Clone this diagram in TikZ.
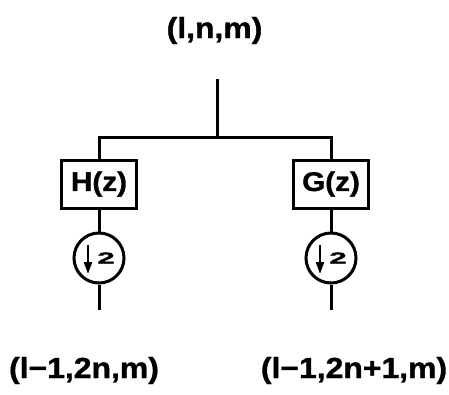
\documentclass[tikz,border=0pt]{standalone}
\usepackage{fontspec}
\usepackage{graphicx}
\usetikzlibrary{arrows.meta}
\newfontfamily\labfont[FakeStretch=1.1,FakeBold=1.2]{Liberation Sans}
\begin{document}
\begin{tikzpicture}[x=1pt,y=1pt,
  wire/.style={line width=3pt},
  lab/.style={font=\labfont\bfseries\fontsize{29}{32}\selectfont, inner sep=0pt, anchor=base},
  filt/.style={draw, line width=3pt, minimum width=75pt, minimum height=48pt, inner sep=0pt,
    font=\labfont\bfseries\fontsize{27}{30}\selectfont},
  down/.style={draw, circle, line width=3pt, minimum size=50pt, inner sep=0pt}]
\useasboundingbox (0,0) rectangle (449,-394);
\node[lab] (top) at (214.5,-38) {(l,n,m)};
\coordinate (src) at (217,-79);
\coordinate (junc) at (217,-137);
\node[filt] (h) at (99,-184) {H(z)};
\node[filt] (g) at (331,-184) {G(z)};
\node[down] (dh) at (99,-258) {};
\node[down] (dg) at (331,-258) {};
\coordinate (oh) at (99,-310);
\coordinate (og) at (331,-310);
\node[lab] (lh) at (84,-378) {(l−1,2n,m)};
\node[lab] (lg) at (354,-378) {(l−1,2n+1,m)};
\draw[wire] (src) -- (junc);
\draw[wire,line cap=rect] (h.north) |- (junc) -| (g.north);
\draw[wire] (h.south) -- (dh.north);
\draw[wire] (g.south) -- (dg.north);
\draw[wire] (dh.south) -- (oh);
\draw[wire] (dg.south) -- (og);
\foreach \c in {dh,dg}{
  \coordinate (\c a) at ([xshift=-11pt,yshift=13pt]\c.center);
  \coordinate (\c b) at ([xshift=-11pt,yshift=-16pt]\c.center);
  \draw[line width=2.4pt,-{Triangle[length=12pt,width=8pt]}] (\c a) -- (\c b);
  \node[font=\labfont\bfseries\fontsize{16}{16}\selectfont, inner sep=0pt] at ([xshift=7pt]\c.center) {\scalebox{1.8}[1]{2}};
}
\end{tikzpicture}
\end{document}
